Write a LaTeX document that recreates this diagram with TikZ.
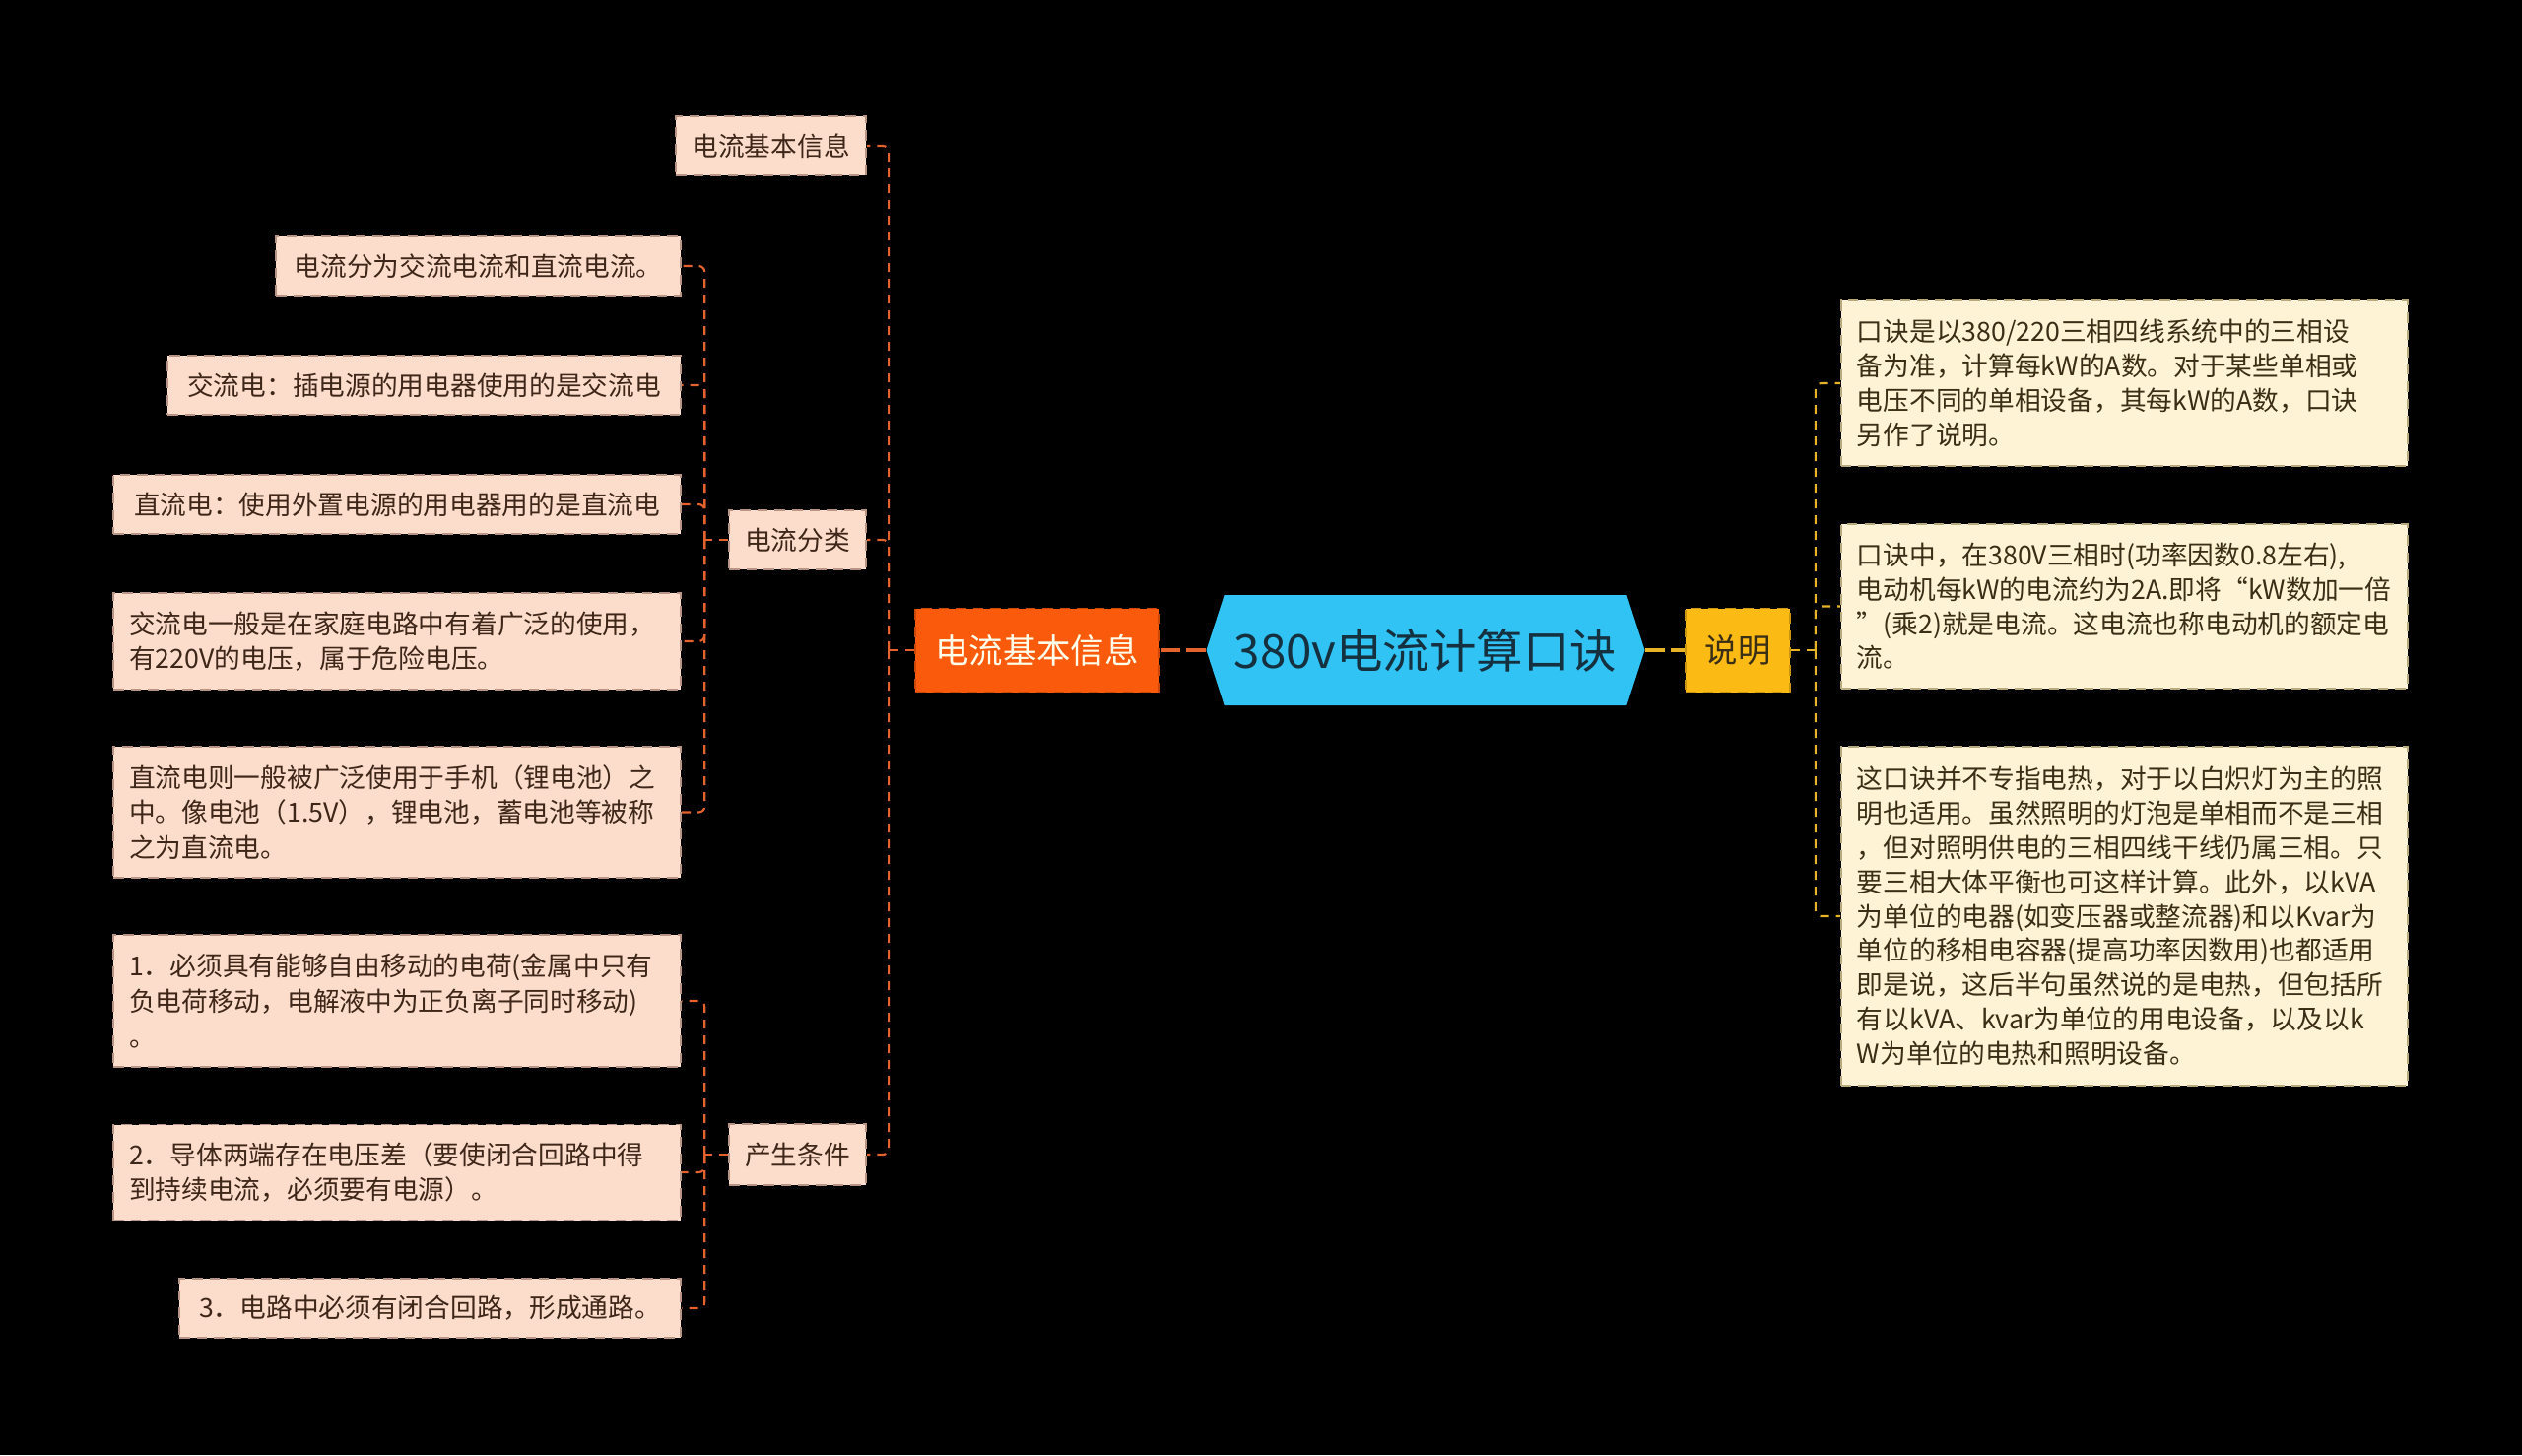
\documentclass[tikz,border=0pt]{standalone}
\usepackage{fontspec}
\setmainfont{Noto Sans CJK SC}
\definecolor{PeachFill}{HTML}{FCDDCC}
\definecolor{PeachLine}{HTML}{B89484}
\definecolor{CreamFill}{HTML}{FEF4D5}
\definecolor{CreamLine}{HTML}{B8A87E}
\definecolor{BrownText}{HTML}{3E2618}
\definecolor{OliveText}{HTML}{3A2F16}
\definecolor{OrangeMain}{HTML}{FA5A0B}
\definecolor{OrangeLink}{HTML}{E4622B}
\definecolor{CyanRoot}{HTML}{30C3F4}
\definecolor{NavyText}{HTML}{15303F}
\definecolor{YellowNote}{HTML}{FCBB14}
\definecolor{YellowLink}{HTML}{E6B426}
\usetikzlibrary{positioning, shapes.symbols}

\tikzset{
  boxL/.style={draw=PeachLine, dash pattern=on 3pt off 2pt, line width=0.5pt,
    fill=PeachFill, text=BrownText, font=\fontsize{7.6}{10.2}\selectfont,
    inner xsep=0.16cm, inner ysep=0pt, minimum height=0.6cm, align=left},
  boxR/.style={draw=CreamLine, dash pattern=on 3pt off 2pt, line width=0.5pt,
    fill=CreamFill, text=OliveText, font=\fontsize{7.6}{9.9}\selectfont,
    inner xsep=0.16cm, inner ysep=0pt, text width=5.43cm, align=left},
  wide/.style={text width=5.44cm},
  linkL/.style={draw=OrangeLink, line width=0.6pt, dash pattern=on 0.09cm off 0.07cm, rounded corners=0.06cm},
  linkR/.style={draw=YellowLink, line width=0.6pt, dash pattern=on 0.09cm off 0.07cm, rounded corners=0.06cm}
}

\begin{document}
\begin{tikzpicture}
  \fill[black] (0,0) rectangle (25.6,-14.77);
  \useasboundingbox (0,0) rectangle (25.6,-14.77);

  % centre and first level
  \node[signal, signal to=west and east, signal pointer angle=144,
    fill=CyanRoot, text=NavyText, font=\fontsize{13.5}{16}\selectfont,
    minimum width=4.45cm, minimum height=1.12cm, inner sep=0pt] (root) at (14.47,-6.60) {380v电流计算口诀};
  \node[fill=OrangeMain, draw=OrangeMain!80!black, dash pattern=on 3pt off 2pt, line width=0.5pt,
    text=white!92!yellow, font=\fontsize{9.8}{12}\selectfont,
    minimum width=2.47cm, minimum height=0.85cm, inner sep=0pt] (info) at (10.525,-6.60) {电流基本信息};
  \node[fill=YellowNote, draw=YellowNote!80!black, dash pattern=on 3pt off 2pt, line width=0.5pt,
    text=OliveText, font=\fontsize{9.5}{12}\selectfont,
    minimum width=1.06cm, minimum height=0.85cm, inner sep=0pt] (note) at (17.64,-6.60) {说明};

  % left side
  \node[boxL, anchor=east, minimum width=1.93cm] (basic) at (8.80,-1.48) {电流基本信息};
  \node[boxL, anchor=east, minimum width=1.39cm] (kinds) at (8.80,-5.48) {电流分类};
  \node[boxL, anchor=east, minimum width=1.39cm, minimum height=0.62cm] (cond) at (8.80,-11.72) {产生条件};

  \node[boxL, anchor=east, minimum width=4.11cm] (k1) at (6.92,-2.70) {电流分为交流电流和直流电流。};
  \node[boxL, anchor=east, minimum width=5.21cm] (k2) at (6.92,-3.91) {交流电：插电源的用电器使用的是交流电};
  \node[boxL, anchor=east, minimum width=5.76cm] (k3) at (6.92,-5.12) {直流电：使用外置电源的用电器用的是直流电};
  \node[boxL, wide, anchor=east, minimum height=0.98cm] (k4) at (6.92,-6.51)
    {交流电一般是在家庭电路中有着广泛的使用，\\有220V的电压，属于危险电压。};
  \node[boxL, wide, anchor=east, minimum height=1.33cm] (k5) at (6.92,-8.245)
    {直流电则一般被广泛使用于手机（锂电池）之\\中。像电池（1.5V），锂电池，蓄电池等被称\\之为直流电。};

  \node[boxL, wide, anchor=east, minimum height=1.34cm] (c1) at (6.92,-10.16)
    {1．必须具有能够自由移动的电荷(金属中只有\\负电荷移动，电解液中为正负离子同时移动)\\。};
  \node[boxL, wide, anchor=east, minimum height=0.97cm] (c2) at (6.92,-11.90)
    {2．导体两端存在电压差（要使闭合回路中得\\到持续电流，必须要有电源）。};
  \node[boxL, anchor=east, minimum width=5.09cm] (c3) at (6.92,-13.28) {3．电路中必须有闭合回路，形成通路。};

  % right side
  \node[boxR, anchor=west, minimum height=1.68cm] (r1) at (18.68,-3.89)
    {口诀是以380/220三相四线系统中的三相设\\备为准，计算每kW的A数。对于某些单相或\\电压不同的单相设备，其每kW的A数，口诀\\另作了说明。};
  \node[boxR, anchor=west, minimum height=1.67cm] (r2) at (18.68,-6.155)
    {口诀中，在380V三相时(功率因数0.8左右),\\电动机每kW的电流约为2A.即将“kW数加一倍\\”(乘2)就是电流。这电流也称电动机的额定电\\流。};
  \node[boxR, anchor=west, minimum height=3.44cm] (r3) at (18.68,-9.30)
    {这口诀并不专指电热，对于以白炽灯为主的照\\明也适用。虽然照明的灯泡是单相而不是三相\\，但对照明供电的三相四线干线仍属三相。只\\要三相大体平衡也可这样计算。此外，以kVA\\为单位的电器(如变压器或整流器)和以Kvar为\\单位的移相电容器(提高功率因数用)也都适用\\即是说，这后半句虽然说的是电热，但包括所\\有以kVA、kvar为单位的用电设备，以及以k\\W为单位的电热和照明设备。};

  % connectors
  \draw[OrangeLink, line width=1.4pt, dash pattern=on 0.2cm off 0.06cm] (root.west) -- (info.east);
  \draw[YellowLink, line width=1.3pt, dash pattern=on 0.2cm off 0.06cm] (root.east) -- (note.west);

  \draw[linkL] (info.west) -- ++(-0.26,0) coordinate (tInfo);
  \foreach \n in {basic, kinds, cond}
    \draw[linkL] (tInfo) |- (\n.east);

  \draw[linkL] (kinds.west) -- ++(-0.24,0) coordinate (tKinds);
  \foreach \n in {k1, k2, k3, k4, k5}
    \draw[linkL] (tKinds) |- (\n.east);

  \draw[linkL] (cond.west) -- ++(-0.24,0) coordinate (tCond);
  \foreach \n in {c1, c2, c3}
    \draw[linkL] (tCond) |- (\n.east);

  \draw[linkR] (note.east) -- ++(0.25,0) coordinate (tNote);
  \foreach \n in {r1, r2, r3}
    \draw[linkR] (tNote) |- (\n.west);
\end{tikzpicture}
\end{document}
